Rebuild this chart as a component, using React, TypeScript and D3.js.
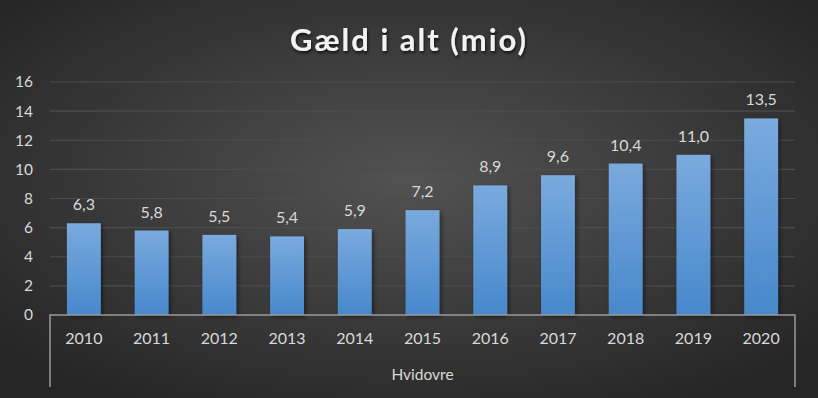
import React from "react";
import * as d3 from "d3";

const categories = ["2010", "2011", "2012", "2013", "2014", "2015", "2016", "2017", "2018", "2019", "2020"];
const values = [6.3, 5.8, 5.5, 5.4, 5.9, 7.2, 8.9, 9.6, 10.4, 11.0, 13.5];
const yTicks = [0, 2, 4, 6, 8, 10, 12, 14, 16];
const groupLabel = "Hvidovre";
const title = "Gæld i alt (mio)";

const W = 818, H = 398;
const L = 50, R = 795, T = 82, B = 315;

export default function App() {
  const x = d3.scaleBand<string>().domain(categories).range([L, R]).paddingInner(0.5).paddingOuter(0.25);
  const y = d3.scaleLinear().domain([0, 16]).range([B, T]);
  const fmt = (v: number) => v.toFixed(1).replace(".", ",");
  const font = "Lato, 'Open Sans', sans-serif";
  return (
    <svg width={W} height={H} style={{ position: "absolute", left: 0, top: 0 }}>
      <defs>
        <radialGradient id="bg" cx="50%" cy="45%" r="65%">
          <stop offset="0%" stopColor="#525252" />
          <stop offset="100%" stopColor="#262626" />
        </radialGradient>
        <linearGradient id="bar" x1="0" y1="0" x2="0" y2="1">
          <stop offset="0%" stopColor="#7aaade" />
          <stop offset="100%" stopColor="#4788cc" />
        </linearGradient>
        <filter id="shadow" x="-20%" y="-20%" width="150%" height="150%">
          <feDropShadow dx="2" dy="2" stdDeviation="2" floodColor="#000" floodOpacity="0.45" />
        </filter>
        <filter id="tshadow" x="-10%" y="-30%" width="120%" height="160%">
          <feDropShadow dx="1" dy="2" stdDeviation="1.5" floodColor="#000" floodOpacity="0.7" />
        </filter>
      </defs>
      <rect width={W} height={H} fill="url(#bg)" />
      <text x={409} y={51} textAnchor="middle" fill="#f2f2f2" fontFamily={font} fontWeight="bold" fontSize={31} filter="url(#tshadow)" letterSpacing="2">{title}</text>
      {yTicks.map(t => (
        <g key={t}>
          {t > 0 && <line x1={L} x2={R} y1={y(t)} y2={y(t)} stroke="#4c4c4c" strokeWidth={1.2} />}
          <text x={33} y={y(t)} dy="0.35em" textAnchor="end" fill="#d9d9d9" fontFamily={font} fontSize={15.5}>{t}</text>
        </g>
      ))}
      {categories.map((c, i) => (
        <g key={c}>
          <rect x={x(c)} y={y(values[i])} width={x.bandwidth()} height={B - y(values[i])} fill="url(#bar)" filter="url(#shadow)" />
          <text x={x(c)! + x.bandwidth() / 2} y={y(values[i]) - 13} textAnchor="middle" fill="#d9d9d9" fontFamily={font} fontSize={16}>{fmt(values[i])}</text>
          <text x={x(c)! + x.bandwidth() / 2} y={344} textAnchor="middle" fill="#d9d9d9" fontFamily={font} fontSize={16}>{c}</text>
        </g>
      ))}
      <path d={`M${L},387V${B}H${R}V387`} fill="none" stroke="#9a9a9a" strokeWidth={1.5} />
      <text x={(L + R) / 2} y={380} textAnchor="middle" fill="#d9d9d9" fontFamily={font} fontSize={15.5}>{groupLabel}</text>
    </svg>
  );
}
